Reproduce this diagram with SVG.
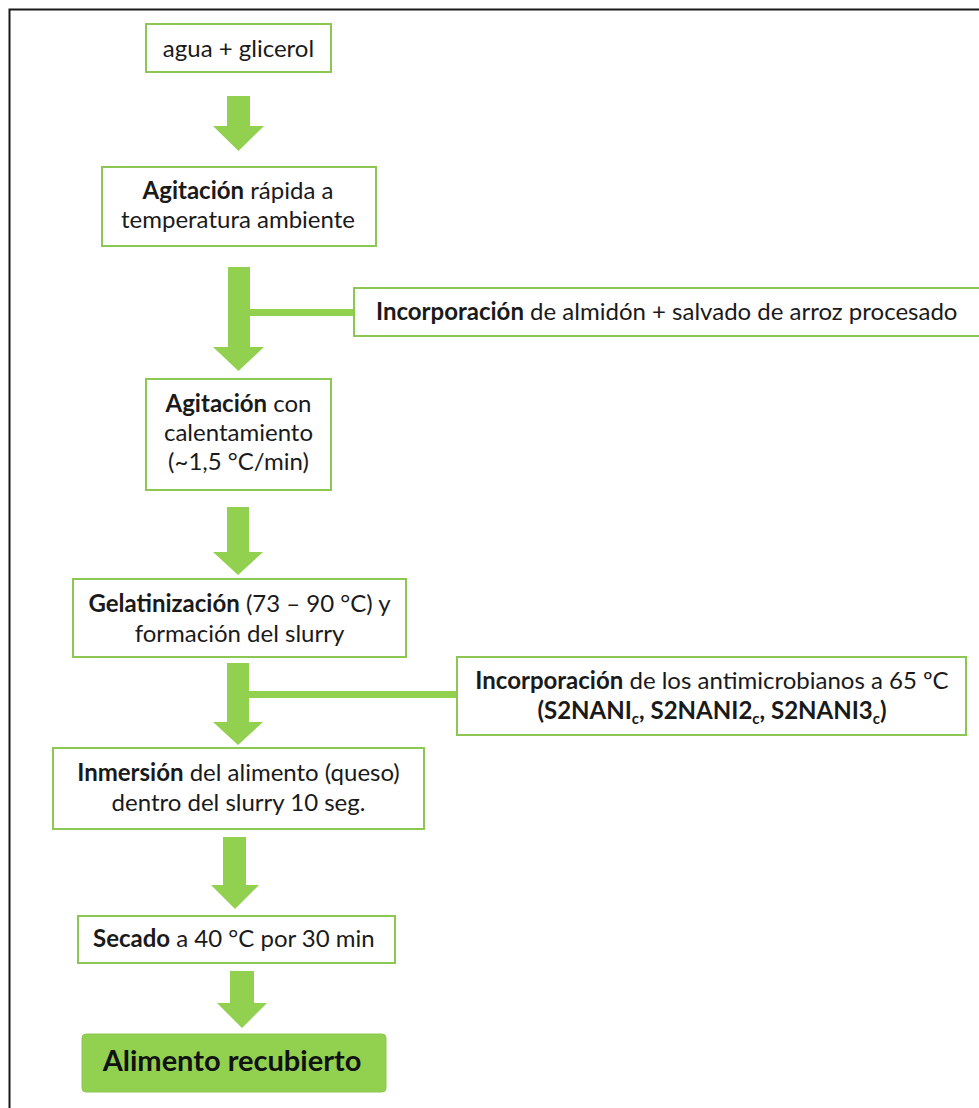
<svg xmlns="http://www.w3.org/2000/svg" width="979" height="1108" viewBox="0 0 979 1108">
<style>
.box{fill:#ffffff;stroke:#8cc653;stroke-width:2}
.final{fill:#92d050;stroke:#8cc653;stroke-width:1}
.arr{fill:#92d050;stroke:none}
.t{font-family:Lato,"Liberation Sans",sans-serif;font-size:24px;fill:#1a1a1a}
.c{text-anchor:middle}
.b{font-weight:bold}
.big{font-family:Lato,"Liberation Sans",sans-serif;font-size:29px;font-weight:bold;fill:#111;text-anchor:middle}
</style>
<rect x="0" y="0" width="979" height="1108" fill="#ffffff"/>
<path d="M9.5,1108 V9.5 H979" fill="none" stroke="#1a1a1a" stroke-width="2"/>

<g id="connectors">
  <path class="arr" d="M227,96 H250 V126 H264 L238.5,151 L213,126 H227 Z"/>
  <path class="arr" d="M228,267 H250 V347 H264 L238.5,371 L213,347 H228 Z"/>
  <rect class="arr" x="250" y="309" width="104" height="7"/>
  <path class="arr" d="M227,507 H249 V552 H263 L238,575 L213,552 H227 Z"/>
  <path class="arr" d="M227,663 H249 V722 H263 L238,745 L213,722 H227 Z"/>
  <rect class="arr" x="249" y="691" width="208" height="7"/>
  <path class="arr" d="M223,837 H246 V885 H259 L235,909 L211,885 H223 Z"/>
  <path class="arr" d="M230,971 H254 V1003 H267 L242,1028 L217,1003 H230 Z"/>
</g>

<g id="n1">
  <rect class="box" x="146" y="24" width="185" height="48"/>
  <text class="t c" x="238.5" y="57">agua + glicerol</text>
</g>
<g id="n2">
  <rect class="box" x="102" y="167" width="274" height="79"/>
  <text class="t c" x="238" y="199"><tspan class="b">Agitación</tspan> rápida a</text>
  <text class="t c" x="238" y="228">temperatura ambiente</text>
</g>
<g id="n3">
  <rect class="box" x="354" y="288" width="640" height="48"/>
  <text class="t" x="376" y="320"><tspan class="b">Incorporación</tspan> de almidón + salvado de arroz procesado</text>
</g>
<g id="n4">
  <rect class="box" x="146" y="379" width="185" height="111"/>
  <text class="t c" x="238.5" y="412"><tspan class="b">Agitación</tspan> con</text>
  <text class="t c" x="238.5" y="441">calentamiento</text>
  <text class="t c" x="238.5" y="470">(~1,5 °C/min)</text>
</g>
<g id="n5">
  <rect class="box" x="73" y="579" width="333" height="78"/>
  <text class="t c" x="239.5" y="612"><tspan class="b">Gelatinización</tspan> (73 – 90 °C) y</text>
  <text class="t c" x="239.5" y="642">formación del slurry</text>
</g>
<g id="n6">
  <rect class="box" x="457" y="657" width="509" height="78"/>
  <text class="t c" x="712" y="689"><tspan class="b">Incorporación</tspan> de los antimicrobianos a 65 ºC</text>
  <text class="t c b" x="712" y="719">(S2NANI<tspan font-size="15" dy="5">c</tspan><tspan dy="-5">, S2NANI2</tspan><tspan font-size="15" dy="5">c</tspan><tspan dy="-5">, S2NANI3</tspan><tspan font-size="15" dy="5">c</tspan><tspan dy="-5">)</tspan></text>
</g>
<g id="n7">
  <rect class="box" x="53" y="748" width="371" height="81"/>
  <text class="t c" x="238.5" y="781"><tspan class="b">Inmersión</tspan> del alimento (queso)</text>
  <text class="t c" x="238.5" y="811">dentro del slurry 10 seg.</text>
</g>
<g id="n8">
  <rect class="box" x="78" y="916" width="317" height="47"/>
  <text class="t" x="93" y="947"><tspan class="b">Secado</tspan> a 40 °C por 30 min</text>
</g>
<g id="n9">
  <rect class="final" x="82" y="1034" width="304" height="58" rx="4"/>
  <text class="big" x="232" y="1071">Alimento recubierto</text>
</g>
</svg>
